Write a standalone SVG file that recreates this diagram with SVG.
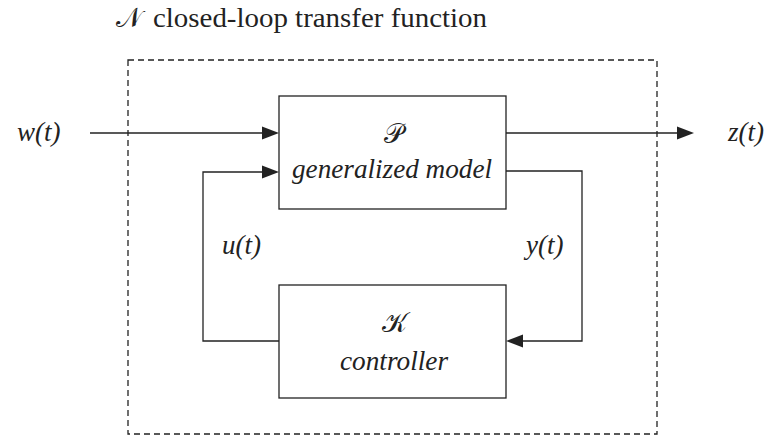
<svg xmlns="http://www.w3.org/2000/svg" width="769" height="436" viewBox="0 0 769 436">
  <style>
    .box { fill: none; stroke: #222; stroke-width: 1.3; }
    .frame { fill: none; stroke: #222; stroke-width: 1.3; stroke-dasharray: 6 4; }
    .wire { fill: none; stroke: #222; stroke-width: 1.3; }
    .head { fill: #222; stroke: none; }
  </style>
  <rect x="0" y="0" width="769" height="436" fill="#fff"/>

  <!-- dashed boundary of the closed loop and its caption -->
  <g id="frame">
    <text x="153" y="27" font-family="'Liberation Serif', 'Times New Roman', serif" font-size="27" fill="#222" textLength="334" lengthAdjust="spacingAndGlyphs">closed-loop transfer function</text>
    <rect class="frame" x="128" y="60" width="529" height="374"/>
  </g>

  <g id="plant">
    <rect class="box" x="279" y="96" width="227" height="113"/>
    <text x="292" y="178" font-family="'Liberation Serif', 'Times New Roman', serif" font-size="27" font-style="italic" fill="#222" textLength="200" lengthAdjust="spacingAndGlyphs">generalized model</text>
  </g>

  <g id="controller">
    <rect class="box" x="279" y="285" width="227" height="113"/>
    <text x="340" y="370" font-family="'Liberation Serif', 'Times New Roman', serif" font-size="27" font-style="italic" fill="#222" textLength="108" lengthAdjust="spacingAndGlyphs">controller</text>
  </g>

  <!-- signal lines with filled arrowheads -->
  <g id="connectors">
    <path class="wire" d="M90,133 H266"/>
    <polygon class="head" points="279,133 262,126.5 262,139.5"/>
    <path class="wire" d="M506,133 H681"/>
    <polygon class="head" points="694,133 677,126.5 677,139.5"/>
    <path class="wire" d="M279,341 H203 V172 H266"/>
    <polygon class="head" points="279,172 262,165.5 262,178.5"/>
    <path class="wire" d="M506,171 H582 V341 H519"/>
    <polygon class="head" points="506,341 523,334.5 523,347.5"/>
  </g>

  <g id="labels">
    <text x="17" y="141" font-family="'Liberation Serif', 'Times New Roman', serif" font-size="27" font-style="italic" fill="#222">w(t)</text>
    <text x="728" y="141" font-family="'Liberation Serif', 'Times New Roman', serif" font-size="27" font-style="italic" fill="#222">z(t)</text>
    <text x="222" y="254" font-family="'Liberation Serif', 'Times New Roman', serif" font-size="27" font-style="italic" fill="#222">u(t)</text>
    <text x="526" y="254" font-family="'Liberation Serif', 'Times New Roman', serif" font-size="27" font-style="italic" fill="#222">y(t)</text>
  </g>

  <!-- calligraphic operator symbols -->
  <g id="symbols">
    <text x="116" y="27" font-family="'DejaVu Serif', serif" font-size="27" fill="#222">𝒩</text>
    <text x="384" y="143" font-family="'DejaVu Serif', serif" font-size="27" fill="#222">𝒫</text>
    <text x="382" y="332" font-family="'DejaVu Serif', serif" font-size="27" fill="#222">𝒦</text>
  </g>
</svg>
